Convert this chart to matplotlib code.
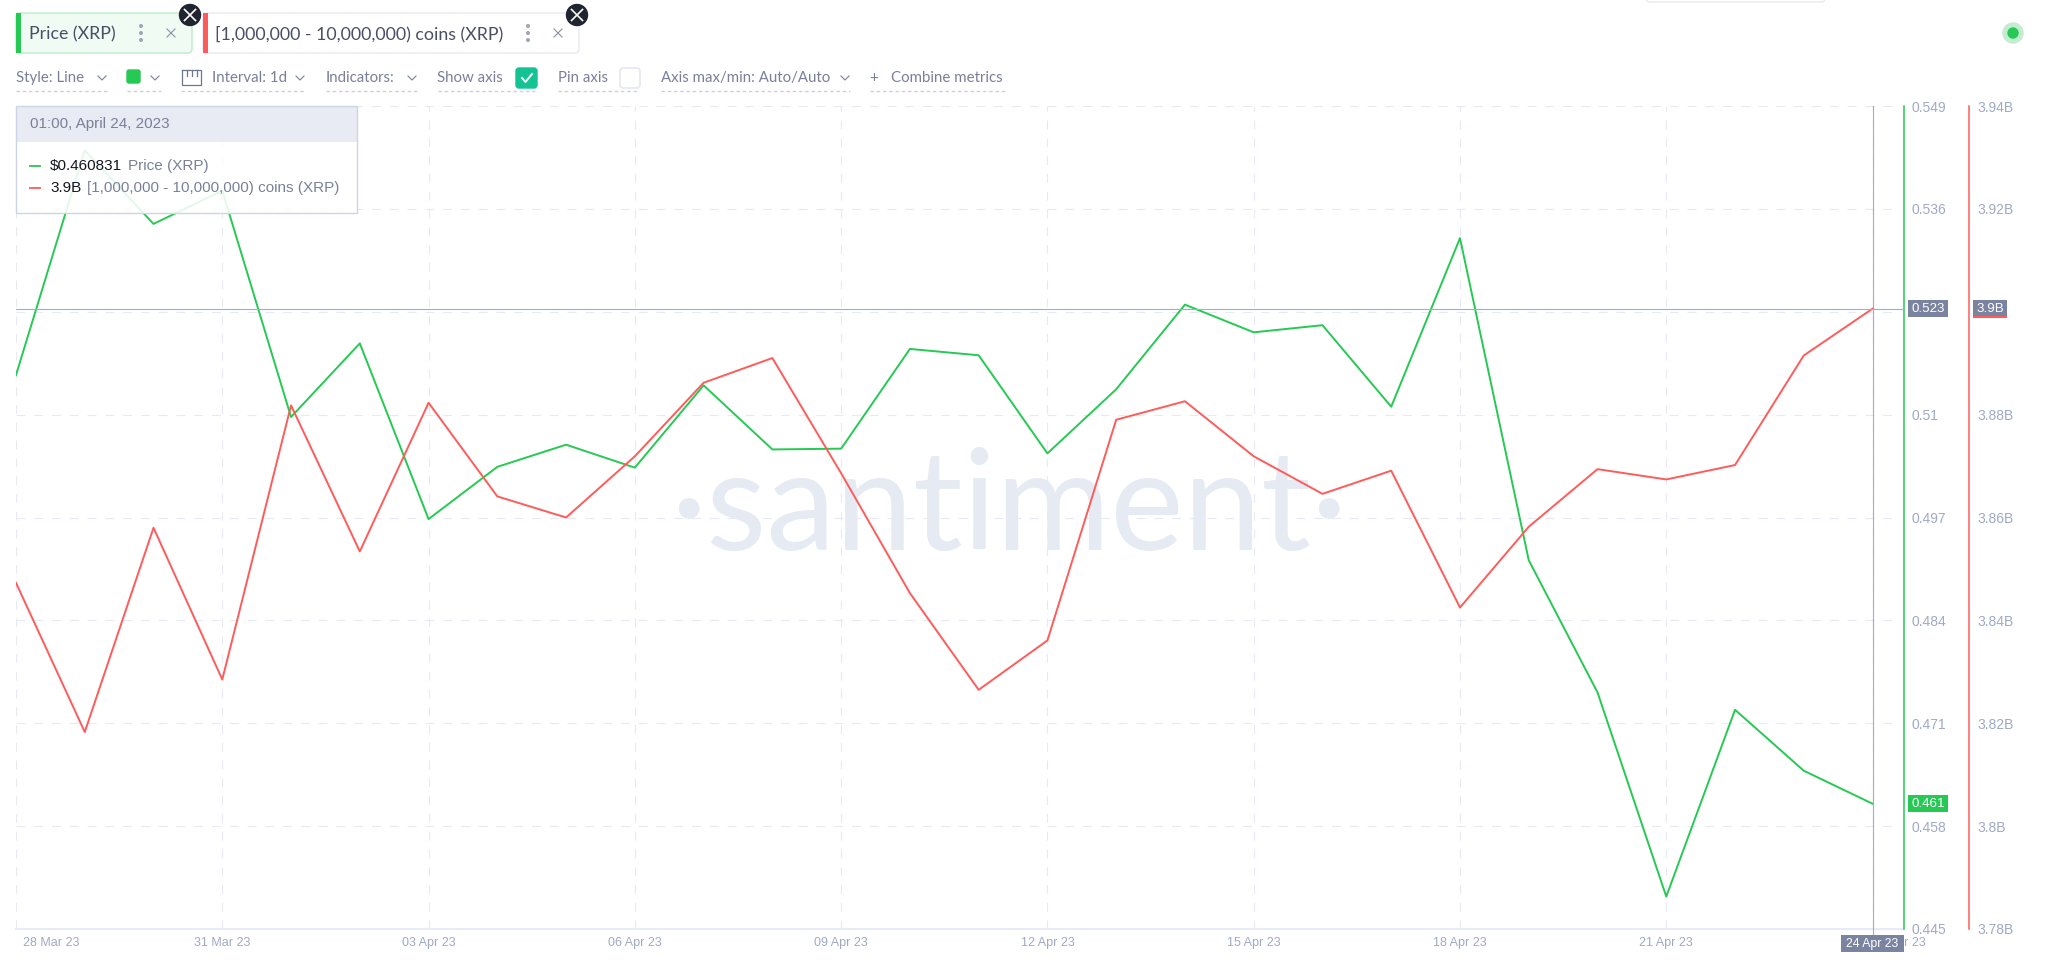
import pandas as pd
import matplotlib
matplotlib.use('Agg')
import matplotlib.pyplot as plt
from matplotlib.patches import Rectangle, FancyBboxPatch, Circle
from matplotlib.transforms import ScaledTranslation

W, H = 2048, 965

# Daily values, 28 Mar - 24 Apr 2023
dates = pd.date_range('2023-03-28', '2023-04-24', freq='D')
price = [0.5150, 0.5434, 0.5341, 0.5383, 0.5097, 0.5190, 0.4968, 0.5034, 0.5062, 0.5033,
         0.5137, 0.5056, 0.5057, 0.5183, 0.5175, 0.5051, 0.5132, 0.5239, 0.5204, 0.5213,
         0.5110, 0.5323, 0.4916, 0.4749, 0.4491, 0.4727, 0.4650, 0.460831]
coins = [3.8473, 3.8183, 3.8580, 3.8285, 3.8818, 3.8534, 3.8823, 3.8641, 3.8600, 3.8719,
         3.8862, 3.8910, 3.8686, 3.8453, 3.8265, 3.8361, 3.8790, 3.8826, 3.8719, 3.8646,
         3.8691, 3.8425, 3.8582, 3.8694, 3.8674, 3.8702, 3.8915, 3.9006]

price_ticks = [0.445, 0.458, 0.471, 0.484, 0.497, 0.51, 0.523, 0.536, 0.549]
price_labels = ['0.445', '0.458', '0.471', '0.484', '0.497', '0.51', '', '0.536', '0.549']
coin_ticks = [3.78, 3.80, 3.82, 3.84, 3.86, 3.88, 3.90, 3.92, 3.94]
coin_labels = ['3.78B', '3.8B', '3.82B', '3.84B', '3.86B', '3.88B', '', '3.92B', '3.94B']
date_ticks = pd.date_range('2023-03-28', '2023-04-24', freq='3D')
date_labels = [d.strftime('%d %b %y') for d in date_ticks]

GREEN = '#26c953'
RED = '#ff5b5b'
GRID = '#e7eaf4'
AXIS_TEXT = '#a0a9c6'
UI_TEXT = '#7a8099'
DARK_TEXT = '#4a4f66'
TAG = '#7a84a0'
CROSS = '#a3adcb'
UI_FONT = 'Lato'
AXIS_FONT = 'Liberation Sans'

plt.rcParams['font.family'] = AXIS_FONT
fig = plt.figure(figsize=(W / 100, H / 100), dpi=100, facecolor='white')

px = 72 / 100  # one pixel in points

# watermark sits behind the chart
fig.text(1009 / W, 1 - 550 / H, '·santiment·', fontsize=100, color='#e6eaf3', family=UI_FONT,
         ha='center', va='baseline', zorder=-1)

ax1 = fig.add_axes([16 / W, 1 - 929 / H, 1882 / W, 823 / H])
ax1.patch.set_alpha(0)
ax2 = ax1.twinx()
ax2.patch.set_alpha(0)

ax1.plot(dates, price, color=GREEN, lw=1.4, zorder=3)
ax2.plot(dates, coins, color=RED, lw=1.4, zorder=3)

ax1.set_xlim(dates[0], dates[-1] + pd.Timedelta(days=0.37))
ax1.set_ylim(0.445, 0.549)
ax2.set_ylim(3.78, 3.94)

ax1.set_xticks(date_ticks)
ax1.set_xticklabels(date_labels, fontsize=9)
ax1.yaxis.tick_right()
ax1.set_yticks(price_ticks)
ax1.set_yticklabels(price_labels, fontsize=9.6)
ax2.set_yticks(coin_ticks)
ax2.set_yticklabels(coin_labels, fontsize=9.6)

ax1.tick_params(axis='x', length=0, pad=5.5, labelcolor=AXIS_TEXT)
ax1.tick_params(axis='y', length=0, pad=8 * px, labelcolor=AXIS_TEXT)
ax2.tick_params(axis='y', length=0, pad=8 * px, labelcolor=AXIS_TEXT)
ax1.grid(True, color=GRID, lw=0.8, dashes=(8, 8))
ax1.set_axisbelow(True)

# first and last date labels are pushed right, as the page clamps them
tick_texts = ax1.get_xticklabels()
tick_texts[0].set_transform(tick_texts[0].get_transform() + ScaledTranslation(35 / 100, 0, fig.dpi_scale_trans))
tick_texts[-1].set_transform(tick_texts[-1].get_transform() + ScaledTranslation(26 / 100, 0, fig.dpi_scale_trans))

for ax in (ax1, ax2):
    for name in ('top', 'left', 'bottom', 'right'):
        ax.spines[name].set_visible(False)

ax1.spines['right'].set_visible(True)
ax1.spines['right'].set_color(GREEN)
ax1.spines['right'].set_linewidth(1.1)
ax1.spines['right'].set_position(('outward', 6 * px))
ax2.spines['right'].set_visible(True)
ax2.spines['right'].set_color(RED)
ax2.spines['right'].set_linewidth(1.1)
ax2.spines['right'].set_position(('outward', 71 * px))

# baseline and crosshair
ax1.axhline(0.445, xmax=1.003, color='#e8ebf5', lw=1.5, clip_on=False, zorder=2)
ax1.axvline(dates[-1], ymin=-0.006, color=CROSS, lw=0.8, clip_on=False, zorder=4)
ax2.axhline(coins[-1], xmax=1.003, color=CROSS, lw=0.8, clip_on=False, zorder=4)

# everything from the page around the chart, in pixel coordinates
ui = fig.add_axes([0, 0, 1, 1], zorder=10)
ui.set_xlim(0, W)
ui.set_ylim(H, 0)
ui.axis('off')
ui.patch.set_alpha(0)


def label(x, y, s, color=UI_TEXT, size=10.8, ha='left', family=UI_FONT):
    ui.text(x, y, s, color=color, fontsize=size, ha=ha, va='center', family=family)


def rect(x0, y0, x1, y1, color, edge='none', alpha=None, zorder=1):
    ui.add_patch(Rectangle((x0, y0), x1 - x0, y1 - y0, facecolor=color, edgecolor=edge,
                           lw=1, alpha=alpha, zorder=zorder))


def rounded(x0, y0, x1, y1, face, edge, r=4):
    ui.add_patch(FancyBboxPatch((x0 + r, y0 + r), x1 - x0 - 2 * r, y1 - y0 - 2 * r,
                                boxstyle='round,pad=%d,rounding_size=%d' % (r, r),
                                facecolor=face, edgecolor=edge, lw=1))


def chevron(x, y):
    ui.plot([x - 4, x, x + 4], [y - 2, y + 2, y - 2], color=UI_TEXT, lw=0.8)


def underline(x0, x1, y=91):
    ui.plot([x0, x1], [y, y], color='#ccd1e0', lw=1, dashes=(2.5, 2))


def cross(x, y, r, color, lw=1.0):
    ui.plot([x - r, x + r], [y - r, y + r], color=color, lw=lw)
    ui.plot([x - r, x + r], [y + r, y - r], color=color, lw=lw)


def dots(x, y):
    for dy in (-7, 0, 7):
        ui.add_patch(Circle((x, y + dy), 1.3, color='#a0a5b8'))


def tab(x0, x1, bar, face, edge, text, text_x, dots_x, close_x, badge_x):
    rounded(x0, 13, x1, 53, face, edge)
    rect(x0, 13, x0 + 5, 53, bar)
    label(text_x, 34, text, DARK_TEXT, 12.8)
    dots(dots_x, 33)
    cross(close_x, 33, 4, '#8a90a6', 0.8)
    ui.add_patch(Circle((badge_x, 15), 10.5, color='#1f2430', zorder=5))
    cross(badge_x, 15, 5.5, 'white', 1.2)
    ui.lines[-1].set_zorder(6)
    ui.lines[-2].set_zorder(6)


tab(16, 192, GREEN, '#f0fbf3', '#bdecc9', 'Price (XRP)', 29, 141, 171, 190)
tab(203, 579, RED, 'white', '#e7eaf4', '[1,000,000 - 10,000,000) coins (XRP)', 215, 528, 558, 577)

# toolbar
label(16, 78, 'Style: Line')
chevron(102, 78)
underline(16, 107)
rounded(127, 70, 140, 83, GREEN, GREEN, r=2)
chevron(155, 78)
underline(127, 161)
ui.plot([182, 182, 201, 201, 182], [70, 85, 85, 70, 70], color='#6f7690', lw=0.9)
for tx in (187, 192, 197):
    ui.plot([tx, tx], [70, 76], color='#6f7690', lw=0.9)
label(212, 78, 'Interval: 1d')
chevron(300, 78)
underline(181, 305)
label(326, 78, 'Indicators:')
chevron(412, 78)
underline(326, 417)
label(437, 78, 'Show axis')
rounded(516, 68, 537, 88, '#14c393', '#14c393', r=3)
ui.plot([522, 525.5, 532], [78, 82, 74], color='white', lw=1.4)
underline(438, 535)
label(558, 78, 'Pin axis')
rounded(620, 68, 640, 88, 'white', '#dfe3ef', r=3)
underline(558, 638)
label(661, 78, 'Axis max/min: Auto/Auto')
chevron(845, 78)
underline(661, 850)
label(869, 78, '+', size=11)
label(891, 78, 'Combine metrics')
underline(870, 1006)

# top right bits
rounded(1646, -12, 1825, 2, 'white', '#e7eaf4', r=4)
ui.add_patch(Circle((2013, 33), 10, color='#c4ecd0'))
ui.add_patch(Circle((2013, 33), 5, color=GREEN))

# tooltip
rect(16, 142, 357, 213, 'white', alpha=0.88)
rect(16, 106, 357, 142, '#e8ebf4')
ui.add_patch(Rectangle((16, 106), 341, 107, facecolor='none', edgecolor='#cfd4e4', lw=1))
label(30, 124, '01:00, April 24, 2023', UI_TEXT, 11, family=AXIS_FONT)
ui.plot([30, 40], [166, 166], color=GREEN, lw=1.3)
ui.plot([30, 40], [188, 188], color=RED, lw=1.3)
label(50, 166, '$0.460831', '#15171f', 11, family=AXIS_FONT)
label(128, 166, 'Price (XRP)', UI_TEXT, 11, family=AXIS_FONT)
label(50, 188, '3.9B', '#15171f', 11, family=AXIS_FONT)
label(87, 188, '[1,000,000 - 10,000,000) coins (XRP)', UI_TEXT, 11, family=AXIS_FONT)


def value_y(ax, value):
    return H - ax.transData.transform((0, value))[1]


def tag(x0, x1, y, s, color, size=9.6):
    rect(x0, y - 8.5, x1, y + 8.5, color)
    label((x0 + x1) / 2, y, s, 'white', size, ha='center', family=AXIS_FONT)


cross_y = value_y(ax2, coins[-1])
tag(1908, 1948, cross_y, '0.523', TAG)
tag(1973, 2007, cross_y, '3.9B', TAG)
rect(1973, cross_y + 7.5, 2007, cross_y + 9.5, RED)
tag(1908, 1948, value_y(ax1, price[-1]), '0.461', GREEN)
tag(1841, 1904, 943.5, '24 Apr 23', TAG, 8.8)

fig.savefig('out.png', dpi=100)
